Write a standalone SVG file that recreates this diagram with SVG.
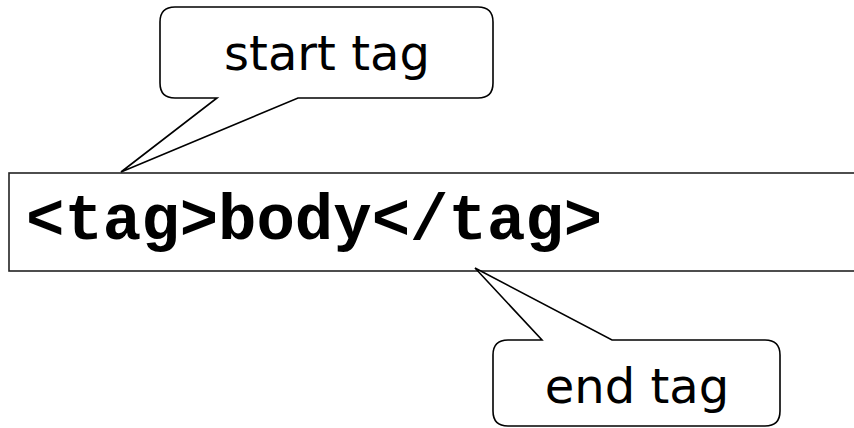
<svg xmlns="http://www.w3.org/2000/svg" width="854" height="428" viewBox="0 0 854 428">
<style>
.box{fill:#fff;stroke:#222;stroke-width:1.6}
.callout{fill:#fff;stroke:#000;stroke-width:1.6;stroke-linejoin:miter}
.lbl{font-family:"DejaVu Sans",Verdana,sans-serif;font-size:48px;fill:#000;text-anchor:middle}
.code{font-family:"Liberation Mono","Courier New",monospace;font-weight:bold;font-size:64px;fill:#000}
</style>
<rect width="854" height="428" fill="#fff"/>
<g id="code-box">
<rect class="box" x="9" y="173" width="860" height="98"/>
<text class="code" x="26" y="239">&lt;tag&gt;body&lt;/tag&gt;</text>
</g>
<g id="connectors"></g>
<g id="start-tag">
<path class="callout" d="M175,7 H478 Q493,7 493,22 V83 Q493,98 478,98 H298 L121,172 L217,98 H175 Q160,98 160,83 V22 Q160,7 175,7 Z"/>
<text class="lbl" x="327" y="70">start tag</text>
</g>
<g id="end-tag">
<path class="callout" d="M508,340 H542 L475,268 L612,340 H765 Q780,340 780,355 V411 Q780,426 765,426 H508 Q493,426 493,411 V355 Q493,340 508,340 Z"/>
<text class="lbl" x="637" y="403">end tag</text>
</g>
</svg>
